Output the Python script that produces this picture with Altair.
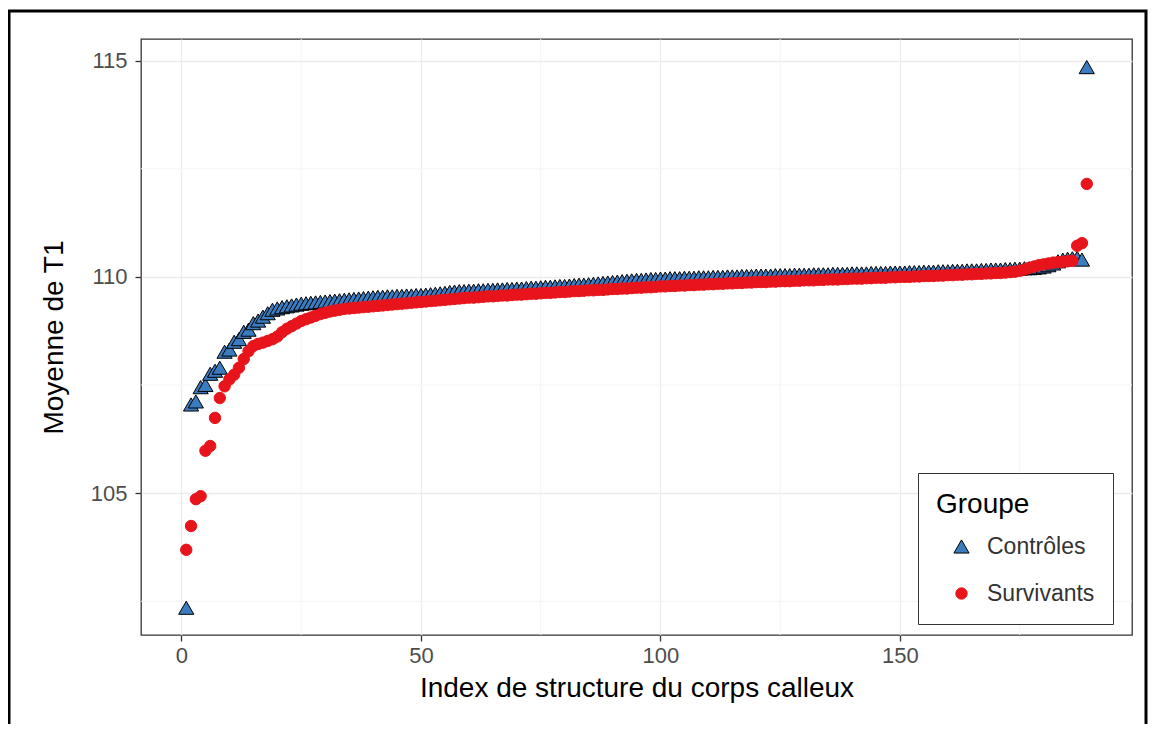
import altair as alt
import pandas as pd

groups = ["Contrôles", "Survivants"]

controles = [
    102.35, 107.05, 107.12, 107.45, 107.50, 107.76, 107.83, 107.90, 108.27, 108.32,
    108.50, 108.56, 108.73, 108.78, 108.93, 108.99, 109.08, 109.16, 109.24, 109.27,
    109.30, 109.32, 109.34, 109.36, 109.38, 109.39, 109.40, 109.41, 109.42, 109.43,
    109.44, 109.45, 109.46, 109.47, 109.48, 109.49, 109.50, 109.51, 109.52, 109.53,
    109.54, 109.54, 109.55, 109.55, 109.56, 109.56, 109.57, 109.57, 109.58, 109.58,
    109.59, 109.60, 109.61, 109.62, 109.63, 109.65, 109.66, 109.67, 109.67, 109.68,
    109.68, 109.69, 109.69, 109.70, 109.70, 109.71, 109.71, 109.72, 109.72, 109.73,
    109.73, 109.74, 109.75, 109.75, 109.76, 109.77, 109.77, 109.78, 109.79, 109.79,
    109.80, 109.81, 109.82, 109.82, 109.83, 109.84, 109.85, 109.86, 109.87, 109.88,
    109.89, 109.90, 109.91, 109.92, 109.93, 109.93, 109.94, 109.95, 109.95, 109.96,
    109.96, 109.97, 109.97, 109.97, 109.98, 109.98, 109.98, 109.99, 109.99, 109.99,
    110.00, 110.00, 110.00, 110.01, 110.01, 110.01, 110.02, 110.02, 110.02, 110.03,
    110.03, 110.03, 110.03, 110.04, 110.04, 110.04, 110.04, 110.05, 110.05, 110.05,
    110.05, 110.06, 110.06, 110.06, 110.06, 110.07, 110.07, 110.07, 110.07, 110.08,
    110.08, 110.08, 110.08, 110.09, 110.09, 110.09, 110.09, 110.10, 110.10, 110.10,
    110.10, 110.11, 110.11, 110.11, 110.12, 110.12, 110.12, 110.13, 110.13, 110.13,
    110.14, 110.14, 110.14, 110.15, 110.15, 110.15, 110.16, 110.16, 110.17, 110.17,
    110.17, 110.18, 110.18, 110.19, 110.19, 110.20, 110.20, 110.21, 110.22, 110.24,
    110.27, 110.31, 110.36, 110.40, 110.42, 110.43, 110.44, 110.40, 114.85,
]

survivants = [
    103.69, 104.24, 104.86, 104.93, 105.98, 106.09, 106.74, 107.20, 107.47, 107.63,
    107.74, 107.90, 108.10, 108.28, 108.40, 108.45, 108.48, 108.52, 108.56, 108.62,
    108.72, 108.80, 108.86, 108.92, 108.98, 109.02, 109.06, 109.10, 109.14, 109.17,
    109.20, 109.22, 109.24, 109.26, 109.27, 109.28, 109.29, 109.30, 109.31, 109.32,
    109.33, 109.34, 109.35, 109.36, 109.37, 109.38, 109.39, 109.40, 109.41, 109.42,
    109.43, 109.44, 109.45, 109.46, 109.47, 109.48, 109.49, 109.50, 109.51, 109.52,
    109.52, 109.53, 109.54, 109.55, 109.55, 109.56, 109.57, 109.57, 109.58, 109.59,
    109.59, 109.60, 109.61, 109.61, 109.62, 109.63, 109.63, 109.64, 109.65, 109.65,
    109.66, 109.67, 109.67, 109.68, 109.69, 109.69, 109.70, 109.70, 109.71, 109.72,
    109.72, 109.73, 109.73, 109.74, 109.75, 109.75, 109.76, 109.76, 109.77, 109.78,
    109.78, 109.79, 109.79, 109.80, 109.80, 109.81, 109.81, 109.82, 109.82, 109.83,
    109.83, 109.84, 109.84, 109.85, 109.85, 109.86, 109.86, 109.87, 109.87, 109.88,
    109.88, 109.88, 109.89, 109.89, 109.90, 109.90, 109.90, 109.91, 109.91, 109.92,
    109.92, 109.92, 109.93, 109.93, 109.94, 109.94, 109.94, 109.95, 109.95, 109.96,
    109.96, 109.96, 109.97, 109.97, 109.98, 109.98, 109.98, 109.99, 109.99, 110.00,
    110.00, 110.00, 110.01, 110.01, 110.02, 110.02, 110.02, 110.03, 110.03, 110.04,
    110.04, 110.05, 110.05, 110.06, 110.06, 110.07, 110.07, 110.08, 110.08, 110.09,
    110.09, 110.10, 110.11, 110.12, 110.14, 110.17, 110.21, 110.24, 110.27, 110.29,
    110.31, 110.33, 110.34, 110.35, 110.36, 110.37, 110.72, 110.78, 112.15,
]

index_c = list(range(1, len(controles) + 1))
index_s = list(range(1, len(survivants) + 1))

x_ticks = [0, 50, 100, 150]
y_ticks = [105, 110, 115]
x_minor = [25, 75, 125, 175]
y_minor = [102.5, 107.5, 112.5]

df = pd.DataFrame({
    "index": index_c + index_s,
    "T1": controles + survivants,
    "Groupe": [groups[0]] * len(controles) + [groups[1]] * len(survivants),
})

FONT = "Liberation Sans"
xs = alt.Scale(domain=[-8.45, 198.45], nice=False, zero=False)
ys = alt.Scale(domain=[101.72, 115.5], nice=False, zero=False)

x_axis = alt.Axis(values=x_ticks, title="Index de structure du corps calleux",
                  labelPadding=4, titlePadding=8)
y_axis = alt.Axis(values=y_ticks, title="Moyenne de T1",
                  labelPadding=8, titlePadding=22)

frame = alt.Chart(pd.DataFrame({"f": [0]})).mark_rect(
    fillOpacity=0, stroke="#000000", strokeWidth=3, clip=False
).encode(
    x=alt.value(-132), x2=alt.value(1005), y=alt.value(-28), y2=alt.value(800)
)

minor_x = alt.Chart(pd.DataFrame({"v": x_minor})).mark_rule(
    color="#F4F4F4", strokeWidth=1
).encode(x=alt.X("v:Q", scale=xs, axis=x_axis))

minor_y = alt.Chart(pd.DataFrame({"v": y_minor})).mark_rule(
    color="#F4F4F4", strokeWidth=1
).encode(y=alt.Y("v:Q", scale=ys, axis=y_axis))

legend = alt.Legend(
    title="Groupe", orient="none", legendX=777, legendY=434,
    strokeColor="#333333", fillColor="#FFFFFF", padding=18,
    titleFont=FONT, titleFontSize=28, titleFontWeight="normal", titleColor="#000000",
    titlePadding=16, labelFont=FONT, labelFontSize=23, labelColor="#333333",
    symbolOffset=14, labelOffset=14, rowPadding=23, symbolStrokeWidth=1,
)

points = alt.Chart(df).mark_point(filled=True, opacity=1, strokeWidth=1).encode(
    x=alt.X("index:Q", scale=xs, axis=x_axis),
    y=alt.Y("T1:Q", scale=ys, axis=y_axis),
    color=alt.Color("Groupe:N", scale=alt.Scale(domain=groups, range=["#3B7BC0", "#E8141B"]),
                    legend=legend),
    shape=alt.Shape("Groupe:N", scale=alt.Scale(domain=groups, range=["triangle-up", "circle"]),
                    legend=legend),
    stroke=alt.Stroke("Groupe:N", scale=alt.Scale(domain=groups, range=["#000000", "#E8141B"]),
                      legend=legend),
    size=alt.Size("Groupe:N", scale=alt.Scale(domain=groups, range=[230, 130]),
                  legend=legend),
)

chart = alt.layer(minor_x, minor_y, frame, points).properties(
    width=991, height=596,
    autosize=alt.AutoSizeParams(type="none"),
    padding={"left": 133, "top": 31, "right": 16, "bottom": 89},
    background="#FFFFFF",
).configure_view(
    stroke="#333333", strokeWidth=1.3
).configure_axis(
    grid=True, gridColor="#EBEBEB", gridWidth=1.3, domain=False,
    tickColor="#333333", tickSize=6, tickWidth=1.3,
    labelFont=FONT, labelFontSize=22, labelColor="#4D4D4D",
    titleFont=FONT, titleFontSize=28, titleFontWeight="normal", titleColor="#000000",
)

chart.save("out.html", embed_options={"renderer": "svg", "actions": False})
